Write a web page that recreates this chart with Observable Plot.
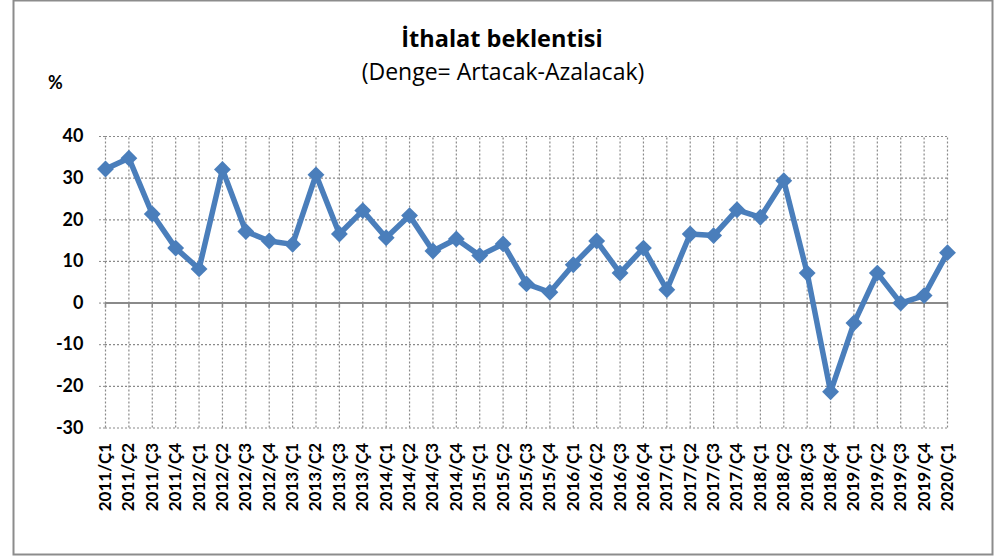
<!DOCTYPE html>
<html>
<head>
<meta charset="utf-8">
<script src="https://cdn.jsdelivr.net/npm/d3@7"></script>
<script src="https://cdn.jsdelivr.net/npm/@observablehq/plot@0.6"></script>
<style>
  html, body { margin: 0; padding: 0; background: #fff; }
  #chart { position: relative; width: 1000px; height: 557px; }
</style>
</head>
<body>
<div id="chart"></div>
<script>
const categories = [
  "2011/Ç1","2011/Ç2","2011/Ç3","2011/Ç4",
  "2012/Ç1","2012/Ç2","2012/Ç3","2012/Ç4",
  "2013/Ç1","2013/Ç2","2013/Ç3","2013/Ç4",
  "2014/Ç1","2014/Ç2","2014/Ç3","2014/Ç4",
  "2015/Ç1","2015/Ç2","2015/Ç3","2015/Ç4",
  "2016/Ç1","2016/Ç2","2016/Ç3","2016/Ç4",
  "2017/Ç1","2017/Ç2","2017/Ç3","2017/Ç4",
  "2018/Ç1","2018/Ç2","2018/Ç3","2018/Ç4",
  "2019/Ç1","2019/Ç2","2019/Ç3","2019/Ç4",
  "2020/Ç1"
];
const values = [
  32.2, 34.8, 21.4, 13.2,
  8.2, 32.1, 17.2, 14.9,
  14.1, 30.8, 16.6, 22.2,
  15.7, 21.0, 12.5, 15.4,
  11.4, 14.2, 4.6, 2.6,
  9.2, 14.9, 7.2, 13.2,
  3.2, 16.6, 16.2, 22.4,
  20.6, 29.4, 7.2, -21.3,
  -4.8, 7.2, 0.0, 1.8,
  12.1
];
const yTicks = [-30, -20, -10, 0, 10, 20, 30, 40];
const titleText = "İthalat beklentisi";
const subtitleText = "(Denge= Artacak-Azalacak)";
const unitText = "%";

const data = categories.map((c, i) => ({ cat: c, value: values[i] }));
const gridColor = "#8a8a8a";
const lineColor = "#4A7EBB";

const chart = Plot.plot({
  width: 1000,
  height: 557,
  marginLeft: 105,
  marginRight: 53,
  marginTop: 136,
  marginBottom: 129.5,
  style: { fontFamily: "Lato, 'Open Sans', sans-serif", color: "#000", background: "transparent" },
  x: { type: "point", domain: categories, padding: 0, round: false },
  y: { domain: [-30, 40] },
  marks: [
    Plot.ruleX(categories, { x: d => d, y1: -30, y2: 40, stroke: gridColor, strokeWidth: 1.2, strokeDasharray: "2,2" }),
    Plot.ruleY(yTicks.filter(v => v !== 0), { y: d => d, stroke: gridColor, strokeWidth: 1.2, strokeDasharray: "2,2" }),
    Plot.ruleY([0], { y: d => d, stroke: gridColor, strokeWidth: 2 }),
    Plot.ruleX(categories, { x: d => d, y1: 0, y2: 0, insetBottom: -5, stroke: gridColor, strokeWidth: 1.5 }),
    Plot.axisY({ ticks: yTicks, tickSize: 7, tickPadding: 15, fontSize: 18, fontWeight: "bold", stroke: gridColor, strokeDasharray: "2,2", label: null, tickFormat: d => String(d) }),
    Plot.axisX({ tickRotate: -90, tickSize: 0, tickPadding: 15, fontSize: 17, fontWeight: "bold", label: null }),
    Plot.line(data, { x: "cat", y: "value", stroke: lineColor, strokeWidth: 5.5, strokeLinejoin: "miter" }),
    Plot.dot(data, { x: "cat", y: "value", symbol: "diamond2", r: 7.6, fill: lineColor, stroke: "none" })
  ]
});

document.getElementById("chart").appendChild(chart);

const svg = d3.select(chart);
svg.insert("rect", ":first-child")
  .attr("x", 13.5).attr("y", 0.5).attr("width", 979).attr("height", 554)
  .attr("fill", "none").attr("stroke", "#8c8c8c").attr("stroke-width", 2);
svg.append("text").attr("x", 502).attr("y", 47).attr("text-anchor", "middle")
  .attr("font-size", 23.5).attr("font-weight", "bold").attr("fill", "#000")
  .attr("font-family", "'Open Sans', sans-serif").text(titleText);
svg.append("text").attr("x", 503).attr("y", 80).attr("text-anchor", "middle")
  .attr("font-size", 23).attr("fill", "#000")
  .attr("font-family", "'Open Sans', sans-serif").text(subtitleText);
svg.append("text").attr("x", 48).attr("y", 89).attr("text-anchor", "start")
  .attr("font-size", 18).attr("font-weight", "bold").attr("fill", "#000")
  .attr("font-family", "Lato, sans-serif").text(unitText);
</script>
</body>
</html>
